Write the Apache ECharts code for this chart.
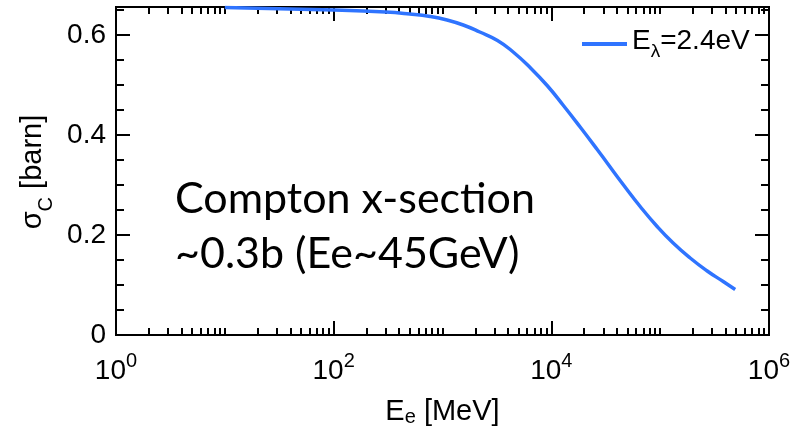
<!DOCTYPE html>
<html>
<head>
<meta charset="utf-8">
<script src="https://cdn.jsdelivr.net/npm/echarts@6/dist/echarts.min.js"></script>
<style>
  html, body { margin: 0; padding: 0; background: #fff; }
  #chart { width: 804px; height: 433px; }
</style>
</head>
<body>
<div id="chart"></div>
<script>
// Compton cross-section vs electron energy
const energyMeV = [10, 100, 300, 500, 770, 1100, 1550, 2200, 3200, 4460, 6380, 9150, 12800, 18400, 26400, 32600, 45700, 65500, 93800, 131600, 188700, 270600, 379600, 489000];
const sigmaBarn = [0.655, 0.650, 0.646, 0.642, 0.637, 0.630, 0.620, 0.606, 0.589, 0.566, 0.535, 0.499, 0.460, 0.416, 0.371, 0.344, 0.301, 0.257, 0.217, 0.184, 0.154, 0.128, 0.107, 0.091];
const seriesName = 'E_lambda=2.4eV';

// ticks
const xMajor = [1, 100, 10000, 1000000];
const xMinor = [];
for (let p = 1; p < 1000000; p *= 10) {
  for (let m = 2; m <= 10; m++) {
    const v = m * p;
    if (xMajor.indexOf(v) < 0) xMinor.push(v);
  }
}
const yMajor = [0, 0.2, 0.4, 0.6];
const yMinor = [0.05, 0.1, 0.15, 0.25, 0.3, 0.35, 0.45, 0.5, 0.55, 0.65];

const font = '"Liberation Sans", Arial, sans-serif';
const ink = '#000';

const chart = echarts.init(document.getElementById('chart'));

function xAxisDef(pos, ticks, len, withLabel) {
  return {
    type: 'log', logBase: 10, position: pos, min: 1, max: 1000000,
    axisLine: { show: withLabel !== null, onZero: false, lineStyle: { color: ink, width: 2 } },
    axisTick: { show: true, inside: true, length: len, customValues: ticks, lineStyle: { color: ink, width: 2 } },
    axisLabel: withLabel ? {
      show: true, customValues: xMajor, margin: 16, color: ink, fontFamily: font, fontSize: 28,
      formatter: function (v) {
        return '{b|10}{s|' + Math.round(Math.log10(v)) + '}';
      },
      rich: {
        b: { fontSize: 28, lineHeight: 40, fontFamily: font, color: ink },
        s: { fontSize: 20, lineHeight: 14, verticalAlign: 'top', fontFamily: font, color: ink }
      }
    } : { show: false },
    splitLine: { show: false },
    minorTick: { show: false },
    name: withLabel ? '{a|E}{sub|e}{a| [MeV]}' : '',
    nameLocation: 'middle',
    nameGap: 62,
    nameTextStyle: {
      fontSize: 29, fontFamily: font, color: ink,
      rich: {
        a: { fontSize: 29, lineHeight: 30, fontFamily: font, color: ink },
        sub: { fontSize: 20, lineHeight: 6, verticalAlign: 'bottom', fontFamily: font, color: ink }
      }
    }
  };
}

function yAxisDef(pos, ticks, len, withLabel) {
  return {
    type: 'value', position: pos, min: 0, max: 0.656,
    axisLine: { show: withLabel !== null, onZero: false, lineStyle: { color: ink, width: 2 } },
    axisTick: { show: true, inside: true, length: len, customValues: ticks, lineStyle: { color: ink, width: 2 } },
    axisLabel: withLabel ? {
      show: true, customValues: yMajor, margin: 10, color: ink, fontFamily: font, fontSize: 28,
      formatter: function (v) { return v === 0 ? '0' : v.toFixed(1); }
    } : { show: false },
    splitLine: { show: false }
  };
}

// y title "σ_C [barn]" built from plain pieces, laid out with measured widths
const ctx = document.createElement('canvas').getContext('2d');
function textWidth(str, size) {
  ctx.font = size + 'px ' + font;
  return ctx.measureText(str).width;
}
const yTitleParts = [
  { text: '\u03c3', size: 29, dy: 0 },
  { text: 'C', size: 20, dy: 13 },
  { text: ' [barn]', size: 29, dy: 0 }
];
const yTitleWidth = yTitleParts.reduce(function (s, p) { return s + textWidth(p.text, p.size); }, 0);
let cursor = -yTitleWidth / 2;
const yTitleChildren = yTitleParts.map(function (p) {
  const el = {
    type: 'text', x: cursor, y: p.dy,
    style: { text: p.text, fontSize: p.size, fontFamily: font, fill: ink, align: 'left', verticalAlign: 'middle' }
  };
  cursor += textWidth(p.text, p.size);
  return el;
});

const option = {
  backgroundColor: '#fff',
  animation: false,
  grid: { left: 116, right: 35, top: 7, bottom: 98, containLabel: false },
  xAxis: [
    xAxisDef('bottom', xMajor, 14, true),
    xAxisDef('bottom', xMinor, 7, false),
    xAxisDef('top', xMajor, 14, false),
    xAxisDef('top', xMinor, 7, false)
  ],
  yAxis: [
    yAxisDef('left', yMajor, 14, true),
    yAxisDef('left', yMinor, 8, false),
    yAxisDef('right', yMajor, 14, false),
    yAxisDef('right', yMinor, 8, false)
  ],
  legend: {
    left: 582, top: 27, padding: 0,
    icon: 'rect', itemWidth: 45, itemHeight: 4,
    data: [seriesName],
    formatter: function () { return '{z|\u200b}{a|E}{l|\u03bb}{a|=2.4eV}'; },
    textStyle: {
      fontSize: 28, fontFamily: font, color: ink,
      rich: {
        z: { fontSize: 28, lineHeight: 34, verticalAlign: 'top', fontFamily: font, color: ink },
        a: { fontSize: 28, lineHeight: 24, verticalAlign: 'top', fontFamily: font, color: ink },
        l: { fontSize: 19, lineHeight: 10, verticalAlign: 'bottom', fontFamily: font, color: ink }
      }
    }
  },
  series: [{
    name: seriesName,
    type: 'line',
    xAxisIndex: 0,
    yAxisIndex: 0,
    smooth: 0.5,
    showSymbol: false,
    lineStyle: { color: '#2f74ff', width: 3.5 },
    itemStyle: { color: '#2f74ff' },
    data: energyMeV.map(function (e, i) { return [e, sigmaBarn[i]]; })
  }],
  graphic: [{
    type: 'group',
    x: 33,
    y: 172,
    rotation: Math.PI / 2,
    children: yTitleChildren
  }, {
    type: 'text',
    left: 175,
    top: 172,
    style: {
      text: 'Compton x-section\n~0.3b (Ee~45GeV)',
      font: '43px Lato, "Open Sans", sans-serif',
      lineHeight: 55,
      fill: ink
    }
  }]
};

chart.setOption(option);
</script>
</body>
</html>
